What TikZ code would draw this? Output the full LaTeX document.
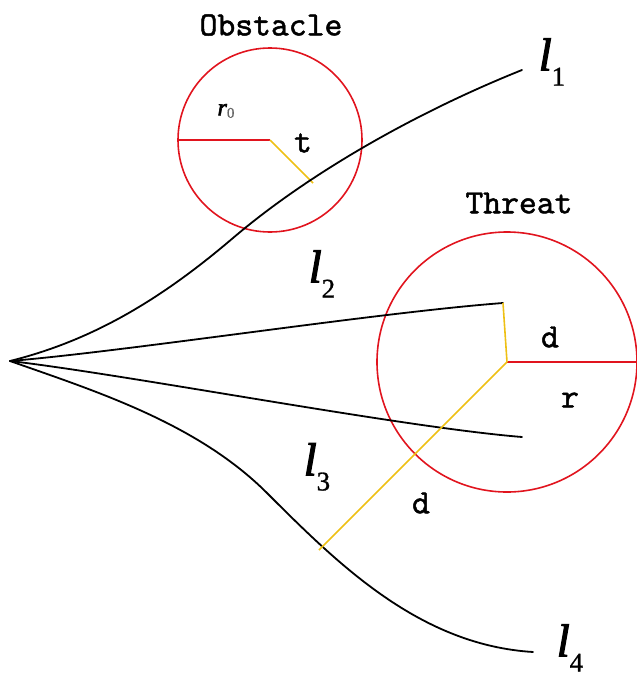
\documentclass[tikz,border=0pt]{standalone}
\usepackage{fontspec}
\newfontfamily\monofont{lmmono10-regular.otf}[FakeBold=1.4]
\newfontfamily\labfont{Liberation Serif}[FakeBold=2.5]
\newfontfamily\subfont{Liberation Serif}[FakeBold=1]
\definecolor{gold}{RGB}{238,192,20}
\definecolor{cred}{RGB}{225,20,30}
\newcommand{\lab}[1]{{\labfont\itshape l}\raisebox{-0.33em}{\subfont\fontsize{27}{27}\selectfont #1}}
\begin{document}
\begin{tikzpicture}[x=1pt,y=-1pt,
  path/.style={black,line width=1.8pt,line cap=round},
  redline/.style={cred,line width=1.6pt},
  yel/.style={gold,line width=1.6pt},
  mono/.style={font=\monofont\fontsize{34}{34}\selectfont,inner sep=0pt},
  lab/.style={font=\fontsize{46}{46}\selectfont,inner sep=0pt}]
\useasboundingbox (0,0) rectangle (637,678);
\coordinate (O) at (10,361);
% obstacle
\coordinate (oc) at (270,140);
\draw[redline] (oc) circle (92);
\draw[redline] (oc) -- (178,140);
\draw[yel] (oc) -- (313,183);
\node[mono] (obs) at (271,25) {Obstacle};
\node[inner sep=0pt] (r0) at (226,111) {{\labfont\itshape\fontsize{24}{24}\selectfont r}\raisebox{-0.25em}{\color{black!60}\subfont\fontsize{15}{15}\selectfont 0}};
\node[mono] (t) at (303,143) {t};
% threat
\coordinate (tc) at (507,362);
\draw[redline] (tc) circle (130);
\draw[redline] (tc) -- (637,362);
\node[mono] (thr) at (519,203) {Threat};
\node[mono] (d1) at (550,337) {d};
\node[mono] (r) at (570,400) {r};
% paths
\coordinate (e1) at (522,70);
\coordinate (e2) at (503,303);
\coordinate (e3) at (522,437);
\coordinate (e4) at (533,652);
\draw[path] (O) .. controls (90,341) and (158,302) .. (233,238)
                .. controls (313,170) and (422,110) .. (e1);
\draw[path] (O) .. controls (130,351) and (373,313) .. (e2);
\draw[path] (O) .. controls (130,375) and (400,427) .. (e3);
\draw[path] (O) .. controls (95,391) and (197,423) .. (267,493)
                .. controls (339,565) and (420,645) .. (e4);
\draw[yel] (e2) -- (tc);
\draw[yel] (319,550) -- (tc);
\node[mono] (d2) at (421,503) {d};
% labels
\node[lab] (l1) at (552,62) {\lab{1}};
\node[lab] (l2) at (322,274) {\lab{2}};
\node[lab] (l3) at (317,467) {\lab{3}};
\node[lab] (l4) at (570,648) {\lab{4}};
\end{tikzpicture}
\end{document}
